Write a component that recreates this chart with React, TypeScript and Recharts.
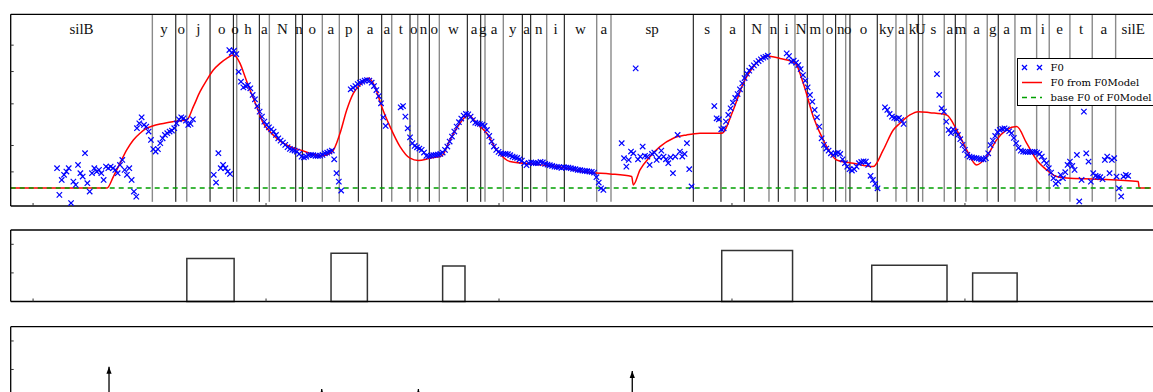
import { ComposedChart, Scatter, Line, XAxis, YAxis, ReferenceLine, ReferenceArea, Legend } from "recharts"

// time axis in seconds, F0 in Hz (log scale)
const timeTicks = [1, 2, 3, 4, 5]
const f0Ticks = [100, 120, 140, 160, 180, 200, 220, 240]
const cmdTicks = [0.1, 0.2, 0.3, 0.4]
const frameStep = 0.01

// measured F0, one value per 10 ms frame, per voiced stretch
const f0Segments = [
  { start: 1.103, values: [102.6, 85.3, 94.6, 98.0, 100.2, 102.6, 80.6, 93.5, 91.4, 104.9, 99.1, 96.8, 113.8, 92.5, 87.3, 99.1, 102.6, 100.2, 101.4, 99.1, 94.6, 103.7, 102.6, 103.7, 102.6, 101.4, 99.1, 104.9, 108.6, 101.4, 98.0, 102.6, 94.6, 87.3, 84.3] },
  { start: 1.446, values: [135.2, 139.9, 145.8, 138.3, 136.7, 132.1, 124.7, 117.0, 115.1, 117.0, 121.9, 126.1, 129.1, 130.6, 132.1, 133.0, 135.2, 139.9, 143.8, 145.8, 144.8, 142.4, 138.3, 139.3, 143.8] },
  { start: 1.7755, values: [98.0, 92.9, 113.8, 102.6, 104.9, 102.6, 100.2, 98.6] },
  { start: 1.8425, values: [232.0, 227.7, 230.9, 225.6, 199.7, 186.4, 179.3, 180.9, 182.2, 178.1, 170.1, 165.1, 157.6, 151.6, 146.5, 141.5, 138.3, 136.1, 134.2, 132.1, 129.1, 126.1, 124.1, 122.4, 120.5, 118.6, 117.2, 116.4, 115.9, 115.1, 113.2, 111.1, 110.6, 111.1, 112.2, 112.4, 112.2, 111.7, 111.7, 111.9, 112.4, 113.7, 114.2, 115.1, 115.9, 109.1, 99.1, 93.5, 87.9] },
  { start: 2.3635, values: [176.9, 178.8, 180.9, 183.5, 185.2, 186.4, 187.8, 188.6, 187.8, 185.2, 180.9, 176.0, 168.9, 160.6, 145.7, 137.3] },
  { start: 2.5781, values: [156.2, 157.6, 146.5, 135.1, 127.0, 121.9, 119.6, 118.5, 117.5, 116.4, 114.3, 111.7, 111.4, 111.9, 112.2, 112.4, 112.7, 113.2, 114.3, 116.4, 119.1, 123.3, 127.6, 132.1, 136.7, 140.9, 144.5, 147.5, 149.2, 148.8, 146.5, 143.1, 140.5, 139.9, 139.2, 138.6, 137.3, 133.6, 128.2, 123.3, 119.1, 116.4, 114.8, 113.7, 113.2, 113.2, 113.0, 112.2, 111.2, 110.6, 110.1, 109.1, 108.1, 106.2, 104.7, 106.2, 106.7, 106.4, 106.2, 106.2, 107.1, 106.7, 105.7, 105.2, 104.7, 104.2, 103.7, 103.5, 103.3, 102.8, 103.3, 103.0, 103.0, 102.6, 102.1, 101.9, 101.4, 101.2, 100.9, 100.7, 100.5, 100.2, 100.0, 99.5, 96.4, 92.9, 89.3, 88.3] },
  { start: 3.5266, values: [121.9, 109.9, 103.7, 108.6, 115.1, 113.7, 204.4, 109.1, 111.2, 119.1, 111.7, 111.2, 104.9, 113.2, 114.3, 108.6, 110.6, 115.8, 111.2, 109.1, 106.2, 110.6, 99.1, 111.2, 129.1, 115.1, 111.2, 113.2, 121.9, 101.9, 90.4] },
  { start: 3.9241, values: [157.6, 144.8, 143.8, 134.2, 135.1, 141.5, 148.2, 155.1, 161.3, 166.6, 171.2, 176.9, 184.3, 191.2, 197.0, 201.2, 205.4, 208.7, 212.1, 215.0, 217.5, 220.0, 221.5, 223.1] },
  { start: 4.2348, values: [226.7, 222.6, 214.0, 215.5, 212.6, 209.2, 203.5, 195.2, 187.7, 179.3, 170.1, 162.4, 153.4, 145.8, 136.7, 126.1, 120.5, 117.5, 115.8, 113.7, 112.4, 113.7, 114.3, 113.2, 109.1, 106.2, 103.7, 101.9, 100.9, 101.9, 103.7, 106.2, 107.1, 107.6, 107.4, 104.9, 97.3, 94.6, 92.1, 89.3] },
  { start: 4.6567, values: [156.2, 153.4, 149.2, 146.5, 145.1, 144.5, 145.1, 143.1, 139.2] },
  { start: 4.8798, values: [196.6, 170.1, 155.1, 151.6, 141.5, 133.6, 130.6, 134.2, 132.1, 129.1, 125.3, 120.5, 116.4, 112.4, 111.2, 110.6, 110.1, 109.9, 109.6, 109.1, 109.1, 109.9, 113.7, 120.2, 124.1, 128.2, 131.8, 133.6, 134.5, 135.1, 134.2, 132.4, 130.6, 126.4, 121.9, 118.0, 115.8, 115.1, 114.8, 114.8, 114.8, 114.8, 114.8, 114.3, 113.2, 111.2, 108.1, 106.2, 102.6, 99.5, 95.7, 92.1] },
  { start: 5.4006, values: [93.5, 98.0, 95.7, 99.8, 104.9, 107.4, 104.2, 101.4, 112.4, 81.5, 94.6, 151.6, 113.7, 107.4, 93.5, 99.1, 97.3, 96.8, 96.4, 95.1, 108.6, 111.2, 99.1, 108.6, 109.9, 96.8, 89.3, 84.4, 96.8, 97.9, 97.3] },
]

// F0 contour generated by the model: [time, Hz]
const modelCurve: [number, number][] = [
  [0.904, 89.5], [1.318, 89.5], [1.3447, 96.8], [1.3734, 106.2], [1.4021, 116.4], [1.4305, 124.7], [1.4592, 130.6],
  [1.488, 135.2], [1.5163, 137.6], [1.5451, 139.2], [1.5738, 140.5], [1.6021, 141.5], [1.6309, 142.4], [1.6597, 143.1],
  [1.688, 156.9], [1.7167, 174.0], [1.7455, 188.6], [1.7738, 202.1], [1.8026, 211.6], [1.8313, 219.0], [1.8597, 224.1],
  [1.8884, 211.6], [1.9099, 192.9], [1.9313, 176.0], [1.9601, 156.9], [1.9884, 139.9], [2.0172, 132.0], [2.0459, 126.2],
  [2.0743, 121.9], [2.103, 119.1], [2.1459, 116.4], [2.2391, 111.7], [2.2833, 114.8], [2.3176, 130.6], [2.3463, 153.4],
  [2.3747, 172.1], [2.4034, 182.2], [2.4391, 190.8], [2.4678, 180.1], [2.4966, 156.9], [2.5322, 136.7], [2.5751, 119.1],
  [2.618, 109.9], [2.6536, 108.1], [2.7039, 109.9], [2.7541, 111.7], [2.7897, 124.7], [2.8326, 139.9], [2.8682, 148.2],
  [2.9043, 139.9], [2.9472, 130.6], [2.9901, 116.4], [3.0472, 107.4], [3.133, 105.7], [3.2476, 103.7], [3.3906, 99.5],
  [3.4764, 98.6], [3.5695, 96.8], [3.5764, 91.4], [3.6052, 101.4], [3.6481, 111.1], [3.691, 119.1], [3.7481, 126.2],
  [3.8056, 129.1], [3.8627, 130.6], [3.9558, 130.6], [4.0056, 153.4], [4.0485, 184.4], [4.0914, 206.7], [4.1489, 222.6],
  [4.206, 219.0], [4.2704, 212.5], [4.306, 184.4], [4.3489, 146.4], [4.3918, 124.7], [4.4494, 108.6], [4.5206, 106.2],
  [4.6064, 103.7], [4.6494, 116.4], [4.6923, 133.6], [4.721, 139.9], [4.7639, 148.2], [4.7996, 151.6], [4.8498, 150.5],
  [4.9215, 148.2], [4.9644, 133.6], [5.0073, 116.4], [5.0502, 104.9], [5.0931, 111.1], [5.136, 124.7], [5.179, 133.6],
  [5.2219, 136.7], [5.2648, 121.9], [5.3077, 108.6], [5.3506, 101.4], [5.3936, 96.8], [5.4365, 95.8], [5.5652, 95.1],
  [5.7438, 93.5], [5.7481, 89.5], [5.7983, 89.5],
]
const baseF0 = 89.5

// phoneme segmentation: start, boundaries, end (s)
const phonemeBounds = [
  0.904, 1.512, 1.6126, 1.6597, 1.7597, 1.8597, 1.8742, 1.9712, 2.0142, 2.1275, 2.1558, 2.2416, 2.3146, 2.3961,
  2.4966, 2.5395, 2.618, 2.6511, 2.7009, 2.7438, 2.8639, 2.9215, 2.9399, 3.0185, 3.1, 3.1361, 3.2047, 3.2803,
  3.4193, 3.4807, 3.8339, 3.9528, 4.0528, 4.1588, 4.1987, 4.2704, 4.3232, 4.3919, 4.4451, 4.488, 4.5064, 4.6236,
  4.7039, 4.7498, 4.7996, 4.8185, 4.9112, 4.9584, 5.0043, 5.0957, 5.1429, 5.2146, 5.3077, 5.3618, 5.4506, 5.5464,
  5.6468, 5.7983,
]
// B = black, G = grey, one per inner boundary
const boundaryTone = "GBGBBGBGBBGGBBGBGBGBBGGBBGBGGBBBGBGBGBGBBGGBGGBGGBGGGGGG"
const phonemeLabels = [
  "silB", "y", "o", "j", "o", "o", "h", "a", "N", "n", "o", "a", "p", "a", "a", "t", "o", "n", "o", "w", "a", "g", "a",
  "y", "a", "n", "i", "w", "a", "sp", "s", "a", "N", "n", "i", "N", "m", "o", "n", "o", "o", "ky", "a", "k", "U", "s",
  "a", "m", "a", "g", "a", "m", "i", "e", "t", "a", "silE",
]

// accent commands (onset, offset, amplitude)
const accentOn = [1.66, 2.279, 2.758, 3.956, 4.6, 5.033]
const accentOff = [1.863, 2.435, 2.854, 4.26, 4.923, 5.224]
const accentAmp = [0.3, 0.338, 0.249, 0.357, 0.254, 0.2]

// phrase commands (time, magnitude)
const phraseTimes = [1.326, 2.239, 2.654, 3.572]
const phraseAmp = [0.22, 0.063, 0.063, 0.19]

const legendLabels = ["F0", "F0 from F0Model", "base F0 of F0Model"]

const timeDomain = [0.904, 5.966]
const f0Domain = [79, 297]
const labelHz = 260
const boundaryLowHz = 81.3

const f0Points = f0Segments.flatMap((seg) =>
  seg.values.map((v, i) => ({ t: +(seg.start + i * frameStep).toFixed(4), f: v }))
)
const modelData = modelCurve.map(([t, f]) => ({ t, f }))
const baseData = [{ t: timeDomain[0], f: baseF0 }, { t: timeDomain[1], f: baseF0 }]
const labelPoints = phonemeLabels.map((name, i) => ({
  t: (phonemeBounds[i] + phonemeBounds[i + 1]) / 2,
  f: labelHz,
  name,
}))
const innerBounds = phonemeBounds.slice(1, -1)
const phraseData = phraseTimes.map((t, i) => [{ t, v: 0 }, { t, v: phraseAmp[i] }])

const Cross = (p: any) => {
  const { cx, cy } = p
  if (cx == null || cy == null) return <g />
  const r = 2.7
  return (
    <g stroke="#0000ff" strokeWidth={1.2}>
      <line x1={cx - r} y1={cy - r} x2={cx + r} y2={cy + r} />
      <line x1={cx - r} y1={cy + r} x2={cx + r} y2={cy - r} />
    </g>
  )
}

const PhonemeText = (p: any) => (
  <text x={p.cx} y={p.cy} textAnchor="middle" fontFamily="Liberation Serif" fontSize={15} fill="#111">
    {p.payload.name}
  </text>
)

const ArrowHead = (p: any) => {
  const { cx, cy, index } = p
  if (index !== 1 || cx == null) return <g key={"h" + index} />
  return <polygon key={"h" + index} points={`${cx - 2.6},${cy + 7} ${cx + 2.6},${cy + 7} ${cx},${cy}`} fill="#000" />
}

const NoTick = () => <g />

const LegendBox = () => (
  <div style={{ border: "1px solid #000", background: "#fff", width: 170, paddingTop: 1, fontFamily: "DejaVu Serif", fontSize: 10, color: "#000" }}>
    {legendLabels.map((label, i) => (
      <div key={label} style={{ display: "flex", alignItems: "center", height: 15 }}>
        <svg width={33} height={15}>
          {i === 0 && (
            <g stroke="#0000ff" strokeWidth={1.2}>
              <line x1={4} y1={5} x2={9} y2={10} /><line x1={4} y1={10} x2={9} y2={5} />
              <line x1={19} y1={5} x2={24} y2={10} /><line x1={19} y1={10} x2={24} y2={5} />
            </g>
          )}
          {i === 1 && <line x1={4} y1={7.5} x2={24} y2={7.5} stroke="#ff0000" strokeWidth={1.5} />}
          {i === 2 && <line x1={4} y1={7.5} x2={24} y2={7.5} stroke="#00a000" strokeWidth={1.5} strokeDasharray="5 4" />}
        </svg>
        <span style={{ whiteSpace: "nowrap" }}>{label}</span>
      </div>
    ))}
  </div>
)

const axisStyle = { stroke: "#000", strokeWidth: 1.3 }
const tickStyle = { stroke: "#333", strokeWidth: 1 }
const chartWidth = 1200

const App = () => {
  return (
    <div style={{ position: "fixed", left: 0, top: 0, width: 1153, height: 392, overflow: "hidden", background: "#fff" }}>
      <div style={{ position: "absolute", left: 0, top: 0 }}>
        <ComposedChart width={chartWidth} height={212} margin={{ top: 14.3, right: 10, bottom: 6, left: 10.7 }}>
          <XAxis dataKey="t" type="number" domain={timeDomain} ticks={timeTicks} allowDataOverflow mirror height={20}
            tick={NoTick} tickSize={3} axisLine={axisStyle} tickLine={tickStyle} />
          <XAxis xAxisId="top" orientation="top" type="number" domain={timeDomain} ticks={timeTicks} allowDataOverflow mirror
            height={20} tick={NoTick} tickSize={3} axisLine={axisStyle} tickLine={tickStyle} />
          <YAxis dataKey="f" type="number" scale="log" domain={f0Domain} ticks={f0Ticks} allowDataOverflow mirror width={20}
            tick={NoTick} tickSize={3} axisLine={axisStyle} tickLine={tickStyle} />
          {innerBounds.map((t, i) => (
            <ReferenceLine key={"b" + i} segment={[{ x: t, y: boundaryLowHz }, { x: t, y: f0Domain[1] }]}
              stroke={boundaryTone[i] === "B" ? "#000" : "#8a8a8a"} strokeWidth={boundaryTone[i] === "B" ? 1 : 1.4} />
          ))}
          <Scatter name="labels" data={labelPoints} shape={PhonemeText} isAnimationActive={false} legendType="none" />
          <Scatter name="F0" data={f0Points} shape={Cross} isAnimationActive={false} />
          <Line name="F0 from F0Model" data={modelData} dataKey="f" type="monotone" stroke="#ff0000" strokeWidth={1.5}
            dot={false} isAnimationActive={false} />
          <Line name="base F0 of F0Model" data={baseData} dataKey="f" type="linear" stroke="#00a000" strokeWidth={1.5}
            strokeDasharray="5 4" dot={false} isAnimationActive={false} />
          <Legend content={() => <LegendBox />} layout="horizontal" verticalAlign="middle" align="center"
            wrapperStyle={{ left: 1016.5, top: 58, width: 170, height: "auto" }} />
        </ComposedChart>
      </div>
      <div style={{ position: "absolute", left: 0, top: 226 }}>
        <ComposedChart width={chartWidth} height={80} margin={{ top: 4, right: 10, bottom: 4.5, left: 10.7 }}>
          <XAxis dataKey="t" type="number" domain={timeDomain} ticks={timeTicks} allowDataOverflow mirror height={20}
            tick={NoTick} tickSize={3} axisLine={axisStyle} tickLine={tickStyle} />
          <XAxis xAxisId="top" orientation="top" type="number" domain={timeDomain} ticks={timeTicks} allowDataOverflow mirror
            height={20} tick={NoTick} tickSize={3} axisLine={axisStyle} tickLine={tickStyle} />
          <YAxis type="number" domain={[0, 0.5]} ticks={cmdTicks} allowDataOverflow mirror width={20}
            tick={NoTick} tickSize={3} axisLine={axisStyle} tickLine={tickStyle} />
          {accentOn.map((t, i) => (
            <ReferenceArea key={"a" + i} x1={t} x2={accentOff[i]} y1={0} y2={accentAmp[i]} fill="none"
              stroke="#333" strokeWidth={1.5} />
          ))}
        </ComposedChart>
      </div>
      <div style={{ position: "absolute", left: 0, top: 322 }}>
        <ComposedChart width={chartWidth} height={82} margin={{ top: 4.7, right: 10, bottom: 6, left: 10.7 }}>
          <XAxis xAxisId="top" orientation="top" type="number" domain={timeDomain} ticks={timeTicks} allowDataOverflow mirror
            height={20} tick={NoTick} tickSize={3} axisLine={axisStyle} tickLine={tickStyle} />
          <XAxis dataKey="t" type="number" domain={timeDomain} ticks={timeTicks} allowDataOverflow mirror height={20}
            tick={NoTick} tickSize={3} axisLine={axisStyle} tickLine={tickStyle} />
          <YAxis dataKey="v" type="number" domain={[0, 0.5]} ticks={cmdTicks} allowDataOverflow mirror width={20}
            tick={NoTick} tickSize={3} axisLine={axisStyle} tickLine={tickStyle} />
          {phraseData.map((d, i) => (
            <Line key={"p" + i} data={d} dataKey="v" type="linear" stroke="#000" strokeWidth={1.3}
              dot={ArrowHead} activeDot={false} isAnimationActive={false} />
          ))}
        </ComposedChart>
      </div>
    </div>
  )
}

export default App
